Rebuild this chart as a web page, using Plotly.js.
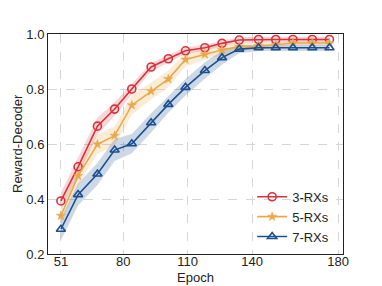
<!DOCTYPE html>
<html><head><meta charset="utf-8">
<script src="https://cdn.plot.ly/plotly-3.0.1.min.js"></script>
<style>html,body{margin:0;padding:0;background:#fff}#chart{width:382px;height:286px}</style>
</head><body><div id="chart"></div>
<script>
const epochs = [51, 59, 68, 76, 84, 93, 101, 109, 118, 126, 134, 143, 151, 159, 168, 176];
const rx3 = [0.393, 0.517, 0.665, 0.727, 0.800, 0.880, 0.910, 0.939, 0.950, 0.966, 0.978, 0.980, 0.980, 0.980, 0.980, 0.980];
const rx5 = [0.339, 0.484, 0.599, 0.630, 0.741, 0.792, 0.836, 0.907, 0.926, 0.942, 0.954, 0.956, 0.961, 0.967, 0.967, 0.967];
const rx7 = [0.290, 0.416, 0.491, 0.578, 0.601, 0.677, 0.744, 0.806, 0.867, 0.914, 0.945, 0.950, 0.950, 0.950, 0.950, 0.950];
const rx3Err = [0.03, 0.035, 0.03, 0.025, 0.02, 0.015, 0.015, 0.012, 0.012, 0.01, 0.01, 0.01, 0.01, 0.01, 0.01, 0.01];
const rx5Err = [0.03, 0.035, 0.035, 0.035, 0.035, 0.03, 0.03, 0.025, 0.02, 0.02, 0.015, 0.012, 0.01, 0.01, 0.01, 0.01];
const rx7Err = [0.04, 0.04, 0.04, 0.04, 0.035, 0.035, 0.03, 0.03, 0.03, 0.025, 0.015, 0.012, 0.012, 0.012, 0.012, 0.012];
const names = ["3-RXs", "5-RXs", "7-RXs"];
const xTicks = [51, 80, 110, 140, 180];
const xTitle = "Epoch";
const yTitle = "Reward-Decoder";

const colors = ["#d9323b", "#e9a94b", "#1d4f8f"];
const fills = ["rgba(217,50,59,0.2)", "rgba(233,169,75,0.22)", "rgba(29,79,143,0.22)"];
const symbols = ["circle-open", "star", "triangle-up-open"];
const sizes = [8, 7, 8];
const series = [rx3, rx5, rx7];
const errs = [rx3Err, rx5Err, rx7Err];

const traces = [];
series.forEach((s, i) => {
  const up = s.map((v, j) => v + errs[i][j]);
  const lo = s.map((v, j) => v - errs[i][j]);
  traces.push({
    x: epochs.concat(epochs.slice().reverse()),
    y: up.concat(lo.slice().reverse()),
    type: "scatter", mode: "lines", fill: "toself",
    fillcolor: fills[i], line: {width: 0, color: "rgba(0,0,0,0)"},
    showlegend: false, hoverinfo: "skip"
  });
});
series.forEach((s, i) => {
  traces.push({
    x: epochs, y: s, name: names[i], type: "scatter", mode: "lines+markers",
    line: {color: colors[i], width: 1.6},
    marker: {symbol: symbols[i], size: sizes[i], color: colors[i],
             line: {color: colors[i], width: i === 1 ? 0.5 : 1.6}}
  });
});

const layout = {
  width: 382, height: 286,
  margin: {l: 48, r: 39, t: 34, b: 32},
  paper_bgcolor: "#fff", plot_bgcolor: "#fff",
  font: {family: "Liberation Sans, Arial, sans-serif", size: 13, color: "#222"},
  xaxis: {
    range: [45, 182.3], tickvals: xTicks, ticktext: xTicks.map(String),
    showgrid: true, gridcolor: "#d6d6d6", griddash: "dash", gridwidth: 1,
    zeroline: false, showline: true, linecolor: "#222", linewidth: 1, mirror: true,
    ticks: "", tickfont: {size: 13}, ticklabelstandoff: -5
  },
  yaxis: {
    range: [0.2, 1.0], dtick: 0.2, tick0: 0.2, tickformat: ".1f",
    showgrid: true, gridcolor: "#d6d6d6", griddash: "dash", gridwidth: 1,
    zeroline: false, showline: true, linecolor: "#222", linewidth: 1, mirror: true,
    ticks: "", tickfont: {size: 13}
  },
  annotations: [
    {text: xTitle, xref: "paper", yref: "paper", x: 0.5, y: 0, yshift: -23,
     xanchor: "center", yanchor: "middle", showarrow: false, font: {size: 13}},
    {text: yTitle, xref: "paper", yref: "paper", x: 0, y: 0.5, xshift: -31,
     xanchor: "center", yanchor: "middle", textangle: -90, showarrow: false, font: {size: 13}}
  ],
  legend: {x: 0.97, xanchor: "right", y: 0.01, yanchor: "bottom",
           bgcolor: "rgba(255,255,255,0)", font: {size: 13}, tracegroupgap: 0},
  showlegend: true
};
Plotly.newPlot("chart", traces, layout, {staticPlot: true, displayModeBar: false});
</script></body></html>
